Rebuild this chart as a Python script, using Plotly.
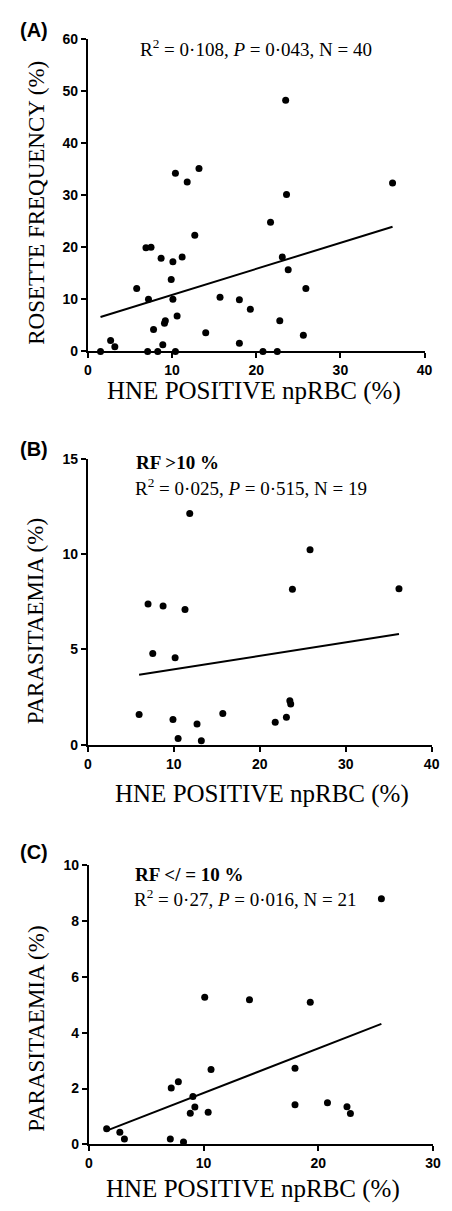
import numpy as np
import plotly.graph_objects as go

W, H = 452, 1211
OFF = 8  # default page body margin in the written html

# ---------------- data ----------------
# Panel A: HNE positive npRBC (%) vs rosette frequency (%)
a_hne = [10.4, 11.8, 13.2, 23.5, 36.2, 23.6, 21.7, 12.7, 6.9, 7.5,
         8.7, 10.1, 11.2, 23.1, 23.8, 5.8, 25.9, 9.9, 7.2, 10.1,
         15.7, 18.0, 19.3, 10.6, 9.2, 9.1, 22.8, 7.8, 14.0, 25.6,
         18.0, 8.9, 2.7, 3.2, 1.5, 7.1, 8.3, 10.4, 20.8, 22.5]
a_rf = [34.2, 32.5, 35.1, 48.2, 32.3, 30.1, 24.8, 22.3, 19.9, 20.0,
        17.9, 17.2, 18.1, 18.1, 15.7, 12.1, 12.1, 13.8, 10.0, 10.0,
        10.4, 9.9, 8.1, 6.8, 5.9, 5.4, 5.9, 4.2, 3.6, 3.1,
        1.6, 1.3, 2.1, 0.9, 0.0, 0.0, 0.0, 0.0, 0.0, 0.0]

# Panel B: RF > 10 %
b_hne = [11.85, 25.85, 23.8, 36.2, 7.0, 8.75, 11.3, 7.55, 10.15, 5.96,
         9.9, 12.7, 10.5, 13.2, 15.7, 21.8, 23.1, 23.5, 23.6]
b_par = [12.13, 10.23, 8.16, 8.19, 7.38, 7.28, 7.1, 4.79, 4.57, 1.59,
         1.33, 1.09, 0.34, 0.21, 1.64, 1.19, 1.45, 2.31, 2.14]

# Panel C: RF </= 10 %
c_hne = [25.5, 10.1, 14.0, 19.3, 10.65, 17.97, 7.18, 7.8, 9.07, 9.24,
         8.84, 10.4, 17.97, 20.8, 22.5, 22.8, 1.55, 2.7, 3.1, 7.1, 8.25]
c_par = [8.79, 5.27, 5.18, 5.09, 2.68, 2.73, 2.02, 2.24, 1.72, 1.34,
         1.12, 1.15, 1.42, 1.49, 1.35, 1.11, 0.56, 0.44, 0.2, 0.2, 0.09]

a_xticks = [0, 10, 20, 30, 40]
a_yticks = [0, 10, 20, 30, 40, 50, 60]
b_xticks = [0, 10, 20, 30, 40]
b_yticks = [0, 5, 10, 15]
c_xticks = [0, 10, 20, 30]
c_yticks = [0, 2, 4, 6, 8, 10]

panel_labels = ["(A)", "(B)", "(C)"]
x_title = "HNE POSITIVE npRBC (%)"
y_titles = ["ROSETTE FREQUENCY (%)", "PARASITAEMIA (%)", "PARASITAEMIA (%)"]
stats = ["R<sup>2</sup> = 0·108, <i>P</i> = 0·043, N = 40",
         "R<sup>2</sup> = 0·025, <i>P</i> = 0·515, N = 19",
         "R<sup>2</sup> = 0·27, <i>P</i> = 0·016, N = 21"]
subsets = [None, "RF >10 %", "RF </ = 10 %"]

# ---------------- helpers ----------------
FW, FH = W - OFF, H - OFF

def px(x):
    return (x - OFF) / FW

def py(y):
    return 1 - (y - OFF) / FH

SERIF = "Liberation Serif, Times New Roman, serif"
SANS = "Liberation Sans, Arial, sans-serif"

fig = go.Figure()

panels = [
    dict(x=a_hne, y=a_rf, xt=a_xticks, yt=a_yticks, xd=(86, 432), yd=(31, 348)),
    dict(x=b_hne, y=b_par, xt=b_xticks, yt=b_yticks, xd=(86, 439.3), yd=(456.7, 746.7)),
    dict(x=c_hne, y=c_par, xt=c_xticks, yt=c_yticks, xd=(87, 440.7), yd=(868.3, 1151.7)),
]

for i, p in enumerate(panels):
    sfx = "" if i == 0 else str(i + 1)
    xa, ya = "x" + sfx, "y" + sfx
    xs = np.array(p["x"])
    ys = np.array(p["y"])
    fig.add_trace(go.Scatter(x=xs, y=ys, mode="markers", xaxis=xa, yaxis=ya,
                             marker=dict(color="black", size=7),
                             cliponaxis=False, showlegend=False))
    slope, inter = np.polyfit(xs, ys, 1)
    lx = np.array([xs.min(), xs.max()])
    fig.add_trace(go.Scatter(x=lx, y=slope * lx + inter, mode="lines",
                             xaxis=xa, yaxis=ya, line=dict(color="black", width=2),
                             cliponaxis=False, showlegend=False))
    axis_common = dict(showline=True, linecolor="black", linewidth=2,
                       ticks="outside", ticklen=5, tickwidth=2, tickcolor="black",
                       showgrid=False, zeroline=False,
                       tickfont=dict(family=SANS, size=14, color="black"))
    fig.update_layout(**{
        "xaxis" + sfx: dict(domain=[px(p["xd"][0]), px(p["xd"][1])],
                            range=[p["xt"][0], p["xt"][-1]], tickvals=p["xt"],
                            ticktext=["<b>%d</b>" % v for v in p["xt"]],
                            anchor=ya, **axis_common),
        "yaxis" + sfx: dict(domain=[py(p["yd"][1]), py(p["yd"][0])],
                            range=[p["yt"][0], p["yt"][-1]], tickvals=p["yt"],
                            ticktext=["<b>%d</b>" % v for v in p["yt"]],
                            anchor=xa, **axis_common),
    })

annotations = []
# panel labels
for lab, yc in zip(panel_labels, [22, 447, 855]):
    annotations.append(dict(text="<b>%s</b>" % lab, x=px(31), y=py(yc),
                            xref="paper", yref="paper",
                            showarrow=False, xanchor="center", yanchor="middle",
                            font=dict(family=SANS, size=20, color="black")))
# x titles
for xc, yc in zip([257, 265, 256], [388, 796, 1197]):
    annotations.append(dict(text=x_title, x=px(xc), y=py(yc), xref="paper", yref="paper",
                            showarrow=False, xanchor="center", yanchor="middle",
                            font=dict(family=SERIF, size=25, color="black")))
# y titles
for t, yc in zip(y_titles, [197, 621, 1034]):
    annotations.append(dict(text=t, x=px(33), y=py(yc), xref="paper", yref="paper",
                            showarrow=False, xanchor="center", yanchor="middle",
                            textangle=-90,
                            font=dict(family=SERIF, size=23, color="black")))
# stats text
for t, xl, yc in zip(stats, [138, 132, 131], [40, 485, 902]):
    annotations.append(dict(text=t, x=px(xl), y=py(yc), xref="paper", yref="paper",
                            showarrow=False, xanchor="left", yanchor="middle",
                            font=dict(family=SERIF, size=19, color="black")))
# subset labels
for t, xl, yc in zip(subsets, [138, 133, 132], [0, 461, 878]):
    if t is None:
        continue
    annotations.append(dict(text="<b>%s</b>" % t, x=px(xl), y=py(yc),
                            xref="paper", yref="paper",
                            showarrow=False, xanchor="left", yanchor="middle",
                            font=dict(family=SERIF, size=19, color="black")))

fig.update_layout(width=FW, height=FH, margin=dict(l=0, r=0, t=0, b=0),
                  paper_bgcolor="white", plot_bgcolor="white",
                  annotations=annotations)

fig.write_html("out.html")
